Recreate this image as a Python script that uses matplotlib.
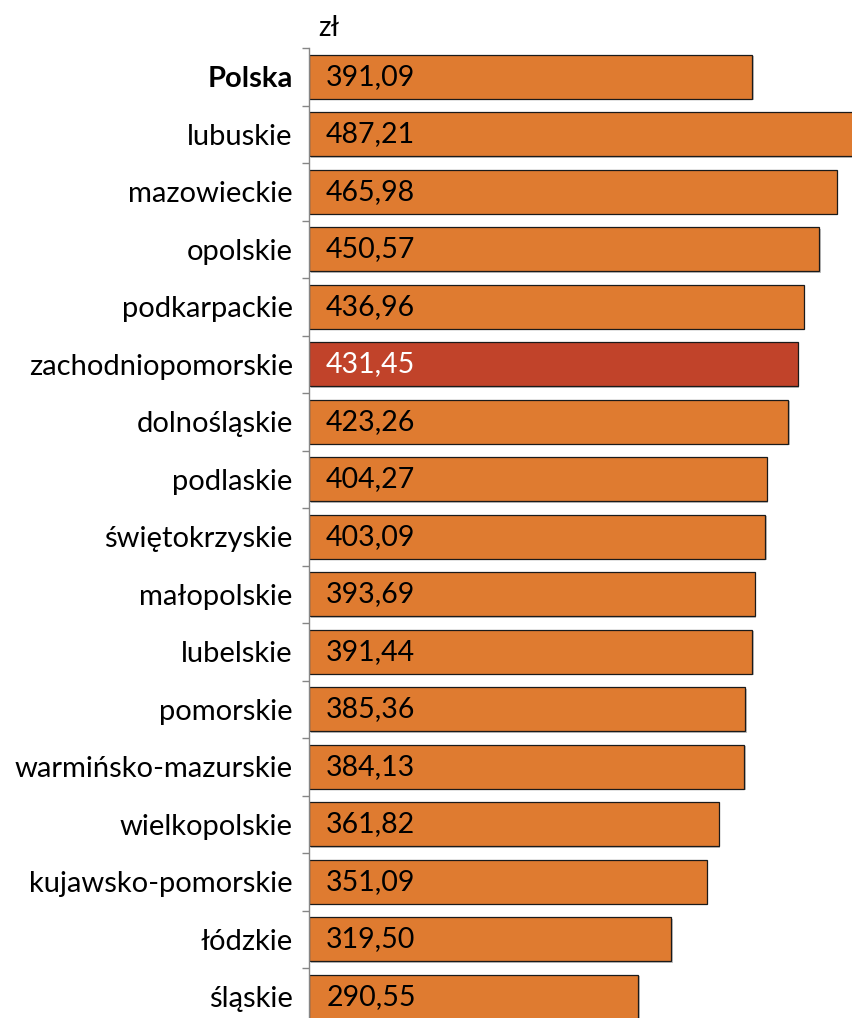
import matplotlib
matplotlib.use("Agg")
import matplotlib.pyplot as plt
import matplotlib.patheffects as pe
import numpy as np

plt.rcParams["font.family"] = ["Lato", "DejaVu Sans"]

regions = [
    "Polska", "lubuskie", "mazowieckie", "opolskie", "podkarpackie",
    "zachodniopomorskie", "dolnośląskie", "podlaskie", "świętokrzyskie",
    "małopolskie", "lubelskie", "pomorskie", "warmińsko-mazurskie",
    "wielkopolskie", "kujawsko-pomorskie", "łódzkie", "śląskie",
]
values = [
    391.09, 487.21, 465.98, 450.57, 436.96, 431.45, 423.26, 404.27, 403.09,
    393.69, 391.44, 385.36, 384.13, 361.82, 351.09, 319.50, 290.55,
]
highlight = "zachodniopomorskie"
unit = "zł"

ORANGE = "#DF7B30"
RED = "#C1432A"

W, H = 853, 1018
fig = plt.figure(figsize=(W / 100, H / 100), dpi=100)

x0 = 309.5
top = 48
step = 57.5
n = len(regions)
ax_h = n * step
ax = fig.add_axes([x0 / W, (H - top - ax_h) / H, (W - x0) / W, ax_h / H])

y = np.arange(n)
colors = [RED if r == highlight else ORANGE for r in regions]
bars = ax.barh(y, values, height=0.765, color=colors, edgecolor="#1a1a1a",
               linewidth=0.9)
for b in bars:
    b.set_path_effects([pe.SimplePatchShadow(offset=(1.2, -1.2), shadow_rgbFace="#9a9a9a", alpha=0.6),
                        pe.Normal()])

ax.set_xlim(0, 480.5)
ax.set_ylim(n - 0.5, -0.5)

for i, (r, v) in enumerate(zip(regions, values)):
    txt = f"{v:.2f}".replace(".", ",")
    ax.annotate(txt, (0, i), xytext=(12, 0), textcoords="offset points",
                va="center", ha="left", fontsize=20.5,
                color="white" if r == highlight else "black")

ax.set_yticks(y)
ax.set_yticklabels(regions, fontsize=21)
ax.get_yticklabels()[0].set_fontweight("bold")
ax.tick_params(axis="y", which="major", length=0, pad=12)
ax.set_yticks(np.arange(n + 1) - 0.5, minor=True)
ax.tick_params(axis="y", which="minor", length=5, width=1, color="#868686")
ax.set_xticks([])

for s in ["top", "right", "bottom"]:
    ax.spines[s].set_visible(False)
ax.spines["left"].set_color("#868686")
ax.spines["left"].set_linewidth(1)

fig.text(318 / W, 1 - 28 / H, unit, fontsize=20, va="center", ha="left")

fig.savefig("out.png", dpi=100)
